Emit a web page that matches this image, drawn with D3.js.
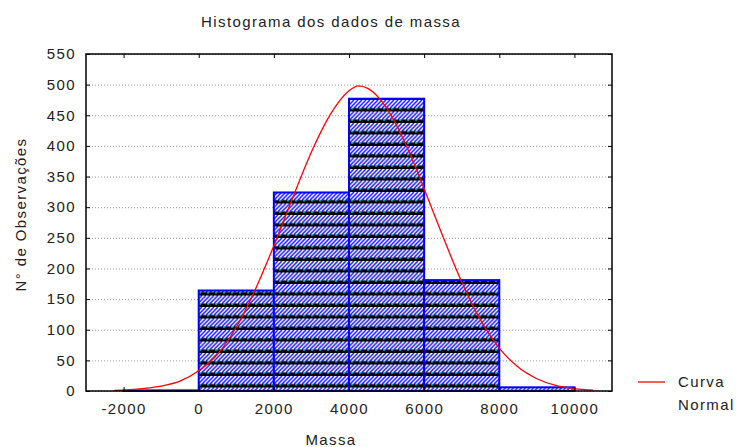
<!DOCTYPE html>
<html>
<head>
<meta charset="utf-8">
<script src="https://cdn.jsdelivr.net/npm/d3@7"></script>
<style>
  body { margin: 0; background: #fff; }
  svg text { font-family: "Liberation Sans", Arial, sans-serif; font-size: 15px; letter-spacing: 1.4px; fill: #222; }
  .grid line { stroke: #999; stroke-dasharray: 1,2; }
</style>
</head>
<body>
<svg id="graphsvg" width="739" height="447"></svg>
<script>
// bins of the histogram (lower edge, upper edge, count)
var binStart = [-2000, 0, 2000, 4000, 6000, 8000];
var binEnd   = [0, 2000, 4000, 6000, 8000, 10000];
var binCount = [1, 164, 324, 477, 181, 6];

// fitted normal curve
var curveX = [-2250, -1500, -1000, -500, 0, 500, 1000, 1500, 2000, 2500, 3000, 3500, 4000, 4250,
              4500, 5000, 5500, 6000, 6500, 7000, 7500, 8000, 8500, 9000, 9500, 10000, 10500];
var curveY = [1, 4, 8, 16, 33, 60, 104, 165, 237, 315, 390, 451, 490, 498,
              494, 462, 404, 330, 252, 178, 116, 70, 39, 20, 9, 4, 1.5];

var yTicks = [0, 50, 100, 150, 200, 250, 300, 350, 400, 450, 500, 550];
var xTicks = [-2000, 0, 2000, 4000, 6000, 8000, 10000];

var svg = d3.select("#graphsvg"),
    margin = {top: 54, right: 127, bottom: 56, left: 86},
    width = 739 - margin.left - margin.right,
    height = 447 - margin.top - margin.bottom;

var x = d3.scaleLinear().domain([-3000, 11000]).range([0, width]);
var y = d3.scaleLinear().domain([0, 550]).range([height, 0]);

// hatch fill: blue diagonals with black band and cyan dots
var defs = svg.append("defs");
var pat = defs.append("pattern")
  .attr("id", "hatch")
  .attr("patternUnits", "userSpaceOnUse")
  .attr("width", 8).attr("height", 11.5)
  .attr("y", margin.top + height);
pat.append("rect").attr("width", 8).attr("height", 11.5).attr("fill", "#fff");
pat.append("path")
  .attr("d", "M-8,8L0,0M-4,8L4,0M0,8L8,0M4,8L12,0")
  .attr("stroke", "#2020ff").attr("stroke-width", 1.5);
pat.append("rect").attr("y", 8).attr("width", 8).attr("height", 3.5).attr("fill", "#000");
pat.append("rect").attr("x", 1).attr("y", 8).attr("width", 2).attr("height", 1.2).attr("fill", "#00e0ff");

var g = svg.append("g").attr("transform", "translate(" + margin.left + "," + margin.top + ")");

// dotted grid
g.append("g").attr("class", "grid")
  .call(d3.axisLeft(y).tickValues(yTicks).tickSize(-width).tickFormat(""))
  .call(function(s) { s.select(".domain").remove(); });

// bars
g.append("g").selectAll("rect")
  .data(binCount)
  .enter().append("rect")
    .attr("x", function(d, i) { return x(binStart[i]); })
    .attr("y", function(d) { return y(d); })
    .attr("width", function(d, i) { return x(binEnd[i]) - x(binStart[i]); })
    .attr("height", function(d) { return y(0) - y(d); })
    .attr("fill", "url(#hatch)")
    .attr("stroke", "#0000ff")
    .attr("stroke-width", 2);

// normal curve
var line = d3.line()
  .x(function(d, i) { return x(curveX[i]); })
  .y(function(d) { return y(d); })
  .curve(d3.curveMonotoneX);
g.append("path")
  .datum(curveY)
  .attr("d", line)
  .attr("fill", "none")
  .attr("stroke", "#ff0000")
  .attr("stroke-width", 1.3);

// axes, ticks inward on every side
var plain = function(d) { return String(d); };
function clean(s) {
  s.select(".domain").remove();
  s.selectAll(".tick line").attr("stroke", "#000");
  s.selectAll(".tick text").style("font-size", "15px");
}
g.append("g")
  .call(d3.axisLeft(y).tickValues(yTicks).tickFormat(plain).tickSizeInner(-4).tickSizeOuter(0).tickPadding(10))
  .call(clean);
g.append("g").attr("transform", "translate(" + width + ",0)")
  .call(d3.axisRight(y).tickValues(yTicks).tickSizeInner(-4).tickSizeOuter(0).tickFormat(""))
  .call(clean);
g.append("g").attr("transform", "translate(0," + height + ")")
  .call(d3.axisBottom(x).tickValues(xTicks).tickFormat(plain).tickSizeInner(-4).tickSizeOuter(0).tickPadding(12))
  .call(clean);
g.append("g")
  .call(d3.axisTop(x).tickValues(xTicks).tickSizeInner(-4).tickSizeOuter(0).tickFormat(""))
  .call(clean);

g.append("rect")
  .attr("width", width).attr("height", height)
  .attr("fill", "none").attr("stroke", "#000").attr("stroke-width", 1.5);

// titles
svg.append("text").attr("x", 331).attr("y", 27).attr("text-anchor", "middle")
  .text("Histograma dos dados de massa");
svg.append("text").attr("x", 331).attr("y", 445).attr("text-anchor", "middle")
  .text("Massa");
svg.append("text")
  .attr("transform", "translate(26," + (margin.top + height / 2 - 8) + ") rotate(-90)")
  .attr("text-anchor", "middle")
  .text("N° de Observações");

// legend
var leg = svg.append("g").attr("transform", "translate(638,382)");
leg.append("line").attr("x1", 0).attr("x2", 27).attr("stroke", "#ff0000").attr("stroke-width", 1.3);
leg.append("text").attr("x", 40).attr("y", 5).text("Curva");
leg.append("text").attr("x", 40).attr("y", 28).text("Normal");
</script>
</body>
</html>
